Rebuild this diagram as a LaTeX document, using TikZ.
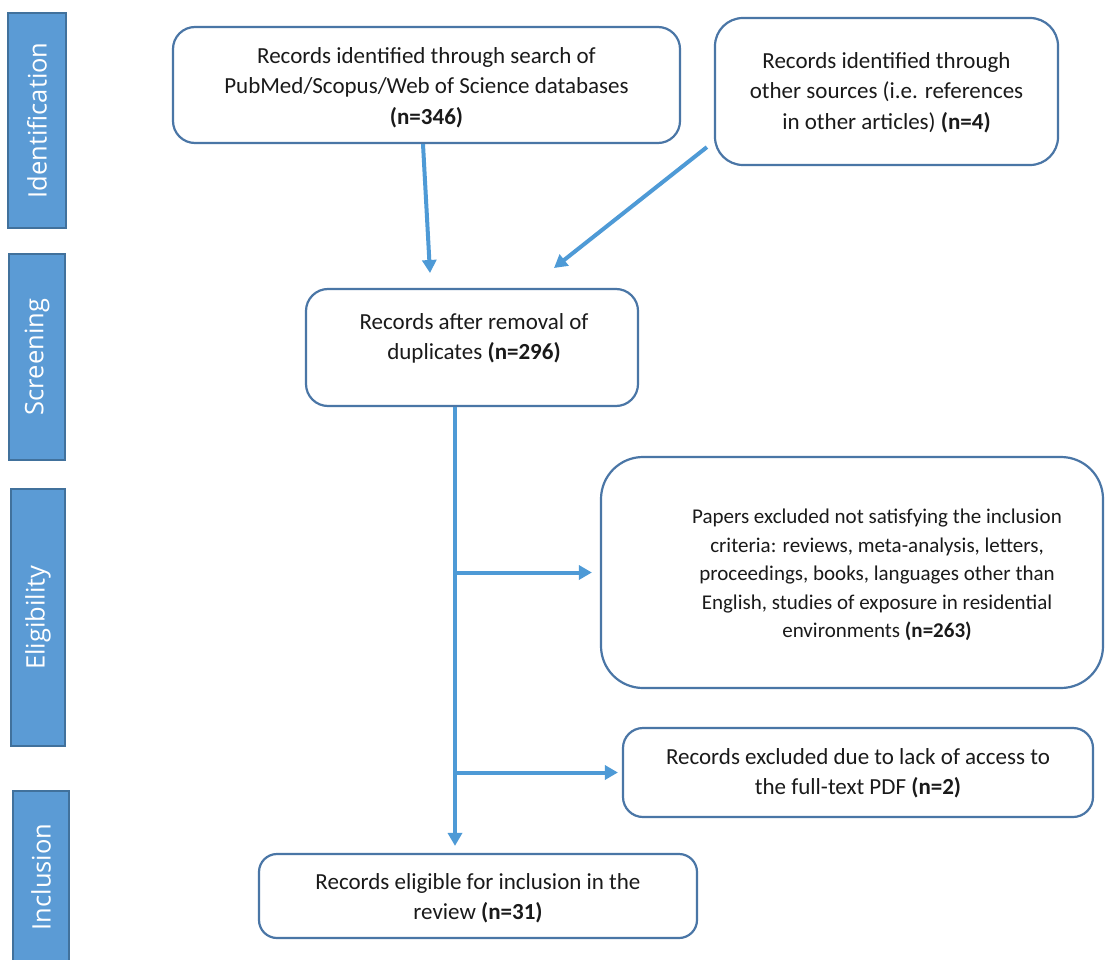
\documentclass[tikz,border=0pt]{standalone}
\usepackage{fontspec}
\setmainfont{Carlito}
\newfontfamily\barfont{Open Sans}
\usetikzlibrary{arrows.meta}
\definecolor{barfill}{HTML}{5B9BD5}
\definecolor{barline}{HTML}{41719C}
\definecolor{boxline}{HTML}{4A76A6}
\definecolor{arrowc}{HTML}{4E9AD6}
\definecolor{txtc}{HTML}{1A1A1A}
\begin{document}
\begin{tikzpicture}[x=1pt,y=-1pt,
  bar/.style={draw=barline, line width=1.5pt, fill=barfill, rotate=90, text=white,
    font=\barfont\fontsize{25.5}{30}\selectfont, inner sep=0pt},
  box/.style={draw=boxline, line width=2.2pt, rounded corners=22pt, inner sep=0pt},
  lbl/.style={align=center, text=txtc, font=\fontsize{23}{30.5}\selectfont, inner sep=0pt},
  arr/.style={draw=arrowc, line width=4pt, -{Triangle[length=13pt,width=14pt]}}]
\clip (0,0) rectangle (1113,960);
\fill[white] (0,0) rectangle (1113,960);

% phase bars
\node[bar, minimum width=215pt, minimum height=58pt] (p1) at (37,120.5) {Identification};
\node[bar, minimum width=206pt, minimum height=56pt] (p2) at (37,357) {Screening};
\node[bar, minimum width=257pt, minimum height=54pt] (p3) at (38,617.5) {Eligibility};
\node[bar, minimum width=172pt, minimum height=56pt] (p4) at (41,877) {Inclusion};

% boxes
\node[box, minimum width=507pt, minimum height=116pt] (b1) at (426.5,85) {};
\node[box, rounded corners=28pt, minimum width=343pt, minimum height=147pt] (b2) at (886.5,91.5) {};
\node[box, minimum width=332pt, minimum height=117pt] (b3) at (472,347.5) {};
\node[box, rounded corners=42pt, minimum width=502pt, minimum height=231pt] (b4) at (852,572.5) {};
\node[box, rounded corners=20pt, minimum width=470pt, minimum height=89pt] (b5) at (858,772.5) {};
\node[box, rounded corners=18pt, minimum width=438pt, minimum height=84pt] (b6) at (478,896) {};

% texts
\node[lbl] (t1) at (426.5,87.5) {Records identified through search of\\PubMed/Scopus/Web of Science databases\\\textbf{(n=346)}};
\node[lbl] (t2) at (886.5,92.5) {Records identified through\\other sources (i.e. references\\in other articles) \textbf{(n=4)}};
\node[lbl] (t3) at (474,338.5) {Records after removal of\\duplicates \textbf{(n=296)}};
\node[lbl, font=\fontsize{21}{28.5}\selectfont] (t4) at (877,575) {Papers excluded not satisfying the inclusion\\criteria: reviews, meta-analysis, letters,\\proceedings, books, languages other than\\English, studies of exposure in residential\\environments \textbf{(n=263)}};
\node[lbl] (t5) at (858,773) {Records excluded due to lack of access to\\the full-text PDF \textbf{(n=2)}};
\node[lbl] (t6) at (478,898) {Records eligible for inclusion in the\\review \textbf{(n=31)}};

% connectors
\coordinate (e1) at (430,273);
\coordinate (e2) at (554,268);
\coordinate (tr) at (455,0);
\draw[arr] ([xshift=-3.5pt]b1.south) -- (e1);
\draw[arr] ([shift={(-7pt,19pt)}]b2.south west) -- (e2);
\draw[arr] (b3.south -| tr) -- ([yshift=7pt]b6.north -| tr);
\draw[arr] (tr |- b4.west) -- ([xshift=-8pt]b4.west);
\draw[arr] (tr |- b5.west) -- ([xshift=-4pt]b5.west);
\end{tikzpicture}
\end{document}
